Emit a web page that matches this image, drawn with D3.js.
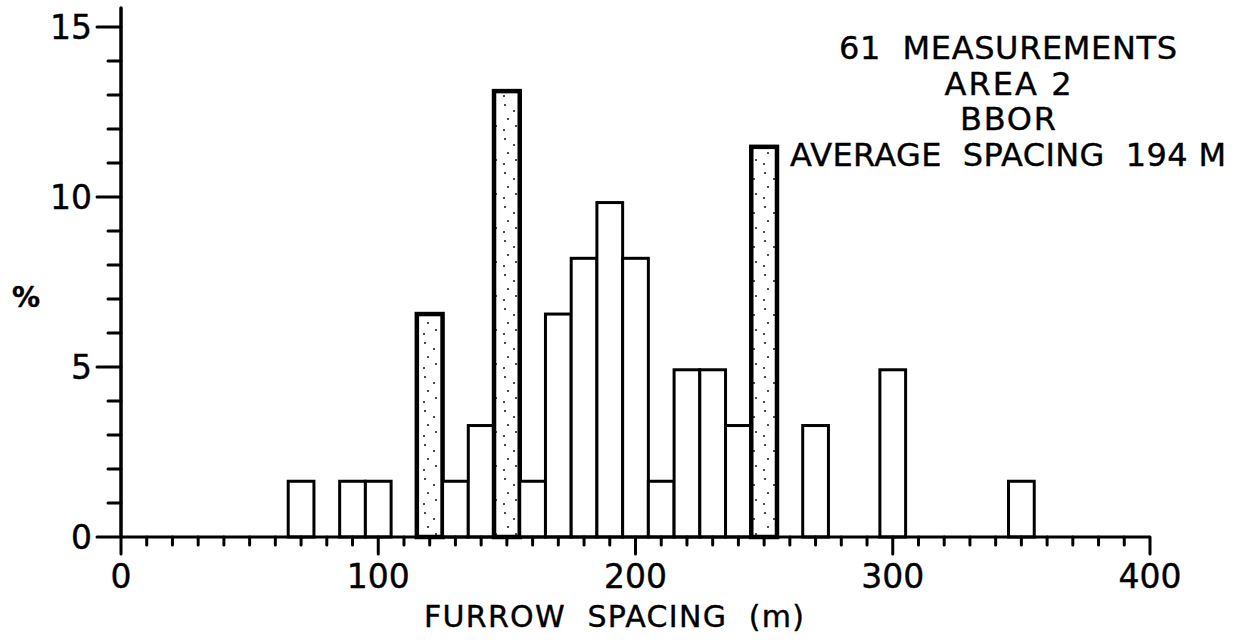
<!DOCTYPE html>
<html>
<head>
<meta charset="utf-8">
<script src="https://cdn.jsdelivr.net/npm/d3@7"></script>
<style>
  body { margin: 0; background: #fff; }
  svg text { font-family: "DejaVu Sans", sans-serif; fill: #000; stroke: #000; stroke-width: 0.4px; white-space: pre; }
</style>
</head>
<body>
<div id="chart"></div>
<script>
// bin centres (m), bin width 10 m
var binCenters = [70, 90, 100, 120, 130, 140, 150, 160, 170, 180, 190, 200, 210, 220, 230, 240, 250, 270, 300, 350]
var counts =     [1, 1, 1, 4, 1, 2, 8, 1, 4, 5, 6, 5, 1, 3, 3, 2, 7, 2, 3, 1]
var stippled = [120, 150, 250]
var totalCount = 61
var xTicks = [0, 100, 200, 300, 400]
var yTicks = [0, 5, 10, 15]
var infoLines = ['61  MEASUREMENTS', 'AREA 2', 'BBOR', 'AVERAGE  SPACING  194 M']
var infoWidths = [338, 127, 96, 436]

var w = 1241, h = 641

var x = d3.scaleLinear().domain([0, 400]).range([121, 1150])
var y = d3.scaleLinear().domain([0, 15]).range([537, 27])

var svg = d3.select('#chart').append('svg')
  .attr('width', w)
  .attr('height', h)

// sparse stipple for the shaded bars
var pat = svg.append('defs').append('pattern')
  .attr('id', 'stipple')
  .attr('patternUnits', 'userSpaceOnUse')
  .attr('width', 20).attr('height', 34)
var dots = [[5, 3], [14, 9], [8, 17], [16, 24], [4, 28]]
pat.selectAll('circle').data(dots).enter().append('circle')
  .attr('cx', d => d[0]).attr('cy', d => d[1]).attr('r', 1.1).attr('fill', '#222')

var bars = binCenters.map((c, i) => ({ c: c, pct: counts[i] / totalCount * 100 }))

svg.selectAll('rect.bar')
  .data(bars)
  .enter()
  .append('rect')
  .attr('class', 'bar')
  .attr('x', d => x(d.c - 5))
  .attr('width', d => x(d.c + 5) - x(d.c - 5))
  .attr('y', d => y(d.pct))
  .attr('height', d => y(0) - y(d.pct))
  .style('fill', d => stippled.indexOf(d.c) >= 0 ? 'url(#stipple)' : '#fff')
  .style('stroke', '#000')
  .style('stroke-width', d => stippled.indexOf(d.c) >= 0 ? 4.5 : 3)

// x axis
var xAxis = svg.append('g').attr('transform', 'translate(0,' + y(0) + ')')
xAxis.append('line')
  .attr('x1', x(0)).attr('x2', x(400))
  .style('stroke', '#000').style('stroke-width', 3)
xAxis.selectAll('line.minor')
  .data(d3.range(0, 401, 10))
  .enter().append('line')
  .attr('class', 'minor')
  .attr('x1', d => x(d)).attr('x2', d => x(d))
  .attr('y1', 0).attr('y2', d => d % 100 === 0 ? 17 : 8)
  .style('stroke', '#000').style('stroke-width', 3)
  .style('stroke-linecap', 'round')
xAxis.selectAll('text')
  .data(xTicks)
  .enter().append('text')
  .attr('x', d => x(d))
  .attr('y', 51)
  .attr('text-anchor', 'middle')
  .style('font-size', '33px')
  .text(d => d)

svg.append('text')
  .attr('x', 424).attr('y', 627)
  .attr('textLength', 380)
  .attr('lengthAdjust', 'spacing')
  .style('font-size', '30px')
  .text('FURROW  SPACING  (m)')

// y axis
var yAxis = svg.append('g').attr('transform', 'translate(' + x(0) + ',0)')
yAxis.append('line')
  .attr('y1', y(0)).attr('y2', 8)
  .style('stroke', '#000').style('stroke-width', 3.5)
  .style('stroke-linecap', 'round')
yAxis.selectAll('line.minor')
  .data(d3.range(0, 16, 1))
  .enter().append('line')
  .attr('class', 'minor')
  .attr('y1', d => y(d)).attr('y2', d => y(d))
  .attr('x1', d => d % 5 === 0 ? -24 : -13).attr('x2', 0)
  .style('stroke', '#000').style('stroke-width', 3)
  .style('stroke-linecap', 'round')
yAxis.selectAll('text')
  .data(yTicks)
  .enter().append('text')
  .attr('x', -29)
  .attr('y', d => y(d) + 12)
  .attr('text-anchor', 'end')
  .style('font-size', '33px')
  .text(d => d)

svg.append('text')
  .attr('x', 26).attr('y', 307)
  .attr('text-anchor', 'middle')
  .style('font-size', '28px')
  .style('font-weight', 'bold')
  .text('%')

// annotation block
svg.selectAll('text.info')
  .data(infoLines)
  .enter().append('text')
  .attr('class', 'info')
  .attr('x', (d, i) => 1008 - infoWidths[i] / 2)
  .attr('y', (d, i) => 59 + i * 35.5)
  .attr('textLength', (d, i) => infoWidths[i])
  .attr('lengthAdjust', 'spacing')
  .style('font-size', '32px')
  .text(d => d)
</script>
</body>
</html>
